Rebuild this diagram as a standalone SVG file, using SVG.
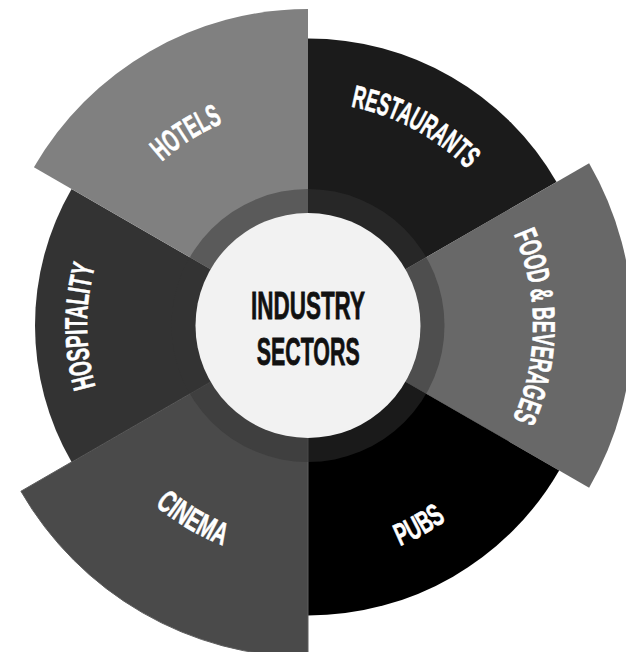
<svg xmlns="http://www.w3.org/2000/svg" xmlns:xlink="http://www.w3.org/1999/xlink" width="626" height="652" viewBox="0 0 626 652">
<style>
.lbl{font-family:"Liberation Sans",Arial,sans-serif;font-weight:bold;font-size:31.5px;fill:#ffffff;stroke:#ffffff;stroke-width:0.6}
.ctr{font-family:"Liberation Sans",Arial,sans-serif;font-weight:bold;font-size:39.5px;fill:#111111;stroke:#111111;stroke-width:0.8}
</style>
<defs>
<path id="pHotels" d="M161.84,161.74 A219.5,219.5 0 0 1 222.76,123.23"/>
<path id="pRest" d="M350.75,106.63 A223,223 0 0 1 467.19,169.34"/>
<path id="pFood" d="M513.71,234.34 A225,225 0 0 1 512.74,418.81"/>
<path id="pPubs" d="M400.04,546.07 A239,239 0 0 0 446.25,520.46"/>
<path id="pCinema" d="M154.88,505.08 A236,236 0 0 0 222.85,545.6"/>
<path id="pHosp" d="M95.67,386.79 A221,221 0 0 1 95.14,266.07"/>
</defs>
<rect width="626" height="652" fill="#ffffff"/>
<g id="restaurants">
<path d="M308,325.5 L308,38.5 A287,287 0 0 1 556.55,182 Z" fill="#1b1b1b"/>
<text class="lbl"><textPath xlink:href="#pRest" href="#pRest" textLength="134.3" lengthAdjust="spacingAndGlyphs">RESTAURANTS</textPath></text>
</g>
<g id="food-beverages">
<path d="M308,325.5 L589.11,163.2 A324.6,324.6 0 0 1 589.11,487.8 Z" fill="#686868"/>
<text class="lbl"><textPath xlink:href="#pFood" href="#pFood" textLength="190.1" lengthAdjust="spacingAndGlyphs">FOOD &amp; BEVERAGES</textPath></text>
</g>
<g id="pubs">
<path d="M308,325.5 L559.15,470.5 A290,290 0 0 1 308,615.5 Z" fill="#000000"/>
<text class="lbl"><textPath xlink:href="#pPubs" href="#pPubs" textLength="53" lengthAdjust="spacingAndGlyphs">PUBS</textPath></text>
</g>
<g id="cinema">
<path d="M308,325.5 L308,657 A331.5,331.5 0 0 1 20.91,491.25 Z" fill="#4a4a4a" stroke="#5e5e5e" stroke-width="1"/>
<text class="lbl"><textPath xlink:href="#pCinema" href="#pCinema" textLength="79.5" lengthAdjust="spacingAndGlyphs">CINEMA</textPath></text>
</g>
<g id="hospitality">
<path d="M308,325.5 L71.58,462 A273,273 0 0 1 71.58,189 Z" fill="#333333"/>
<text class="lbl"><textPath xlink:href="#pHosp" href="#pHosp" textLength="122.3" lengthAdjust="spacingAndGlyphs">HOSPITALITY</textPath></text>
</g>
<g id="hotels">
<path d="M308,325.5 L33.9,167.25 A316.5,316.5 0 0 1 308,9 Z" fill="#808080"/>
<text class="lbl"><textPath xlink:href="#pHotels" href="#pHotels" textLength="72.4" lengthAdjust="spacingAndGlyphs">HOTELS</textPath></text>
</g>
<g id="center">
<circle cx="308" cy="325.5" r="136.5" fill="#333333" fill-opacity="0.5"/>
<circle cx="308" cy="325.5" r="112.5" fill="#f2f2f2"/>
<text class="ctr" x="251" y="318.5" textLength="114" lengthAdjust="spacingAndGlyphs">INDUSTRY</text>
<text class="ctr" x="256.7" y="365" textLength="103" lengthAdjust="spacingAndGlyphs">SECTORS</text>
</g>
</svg>
